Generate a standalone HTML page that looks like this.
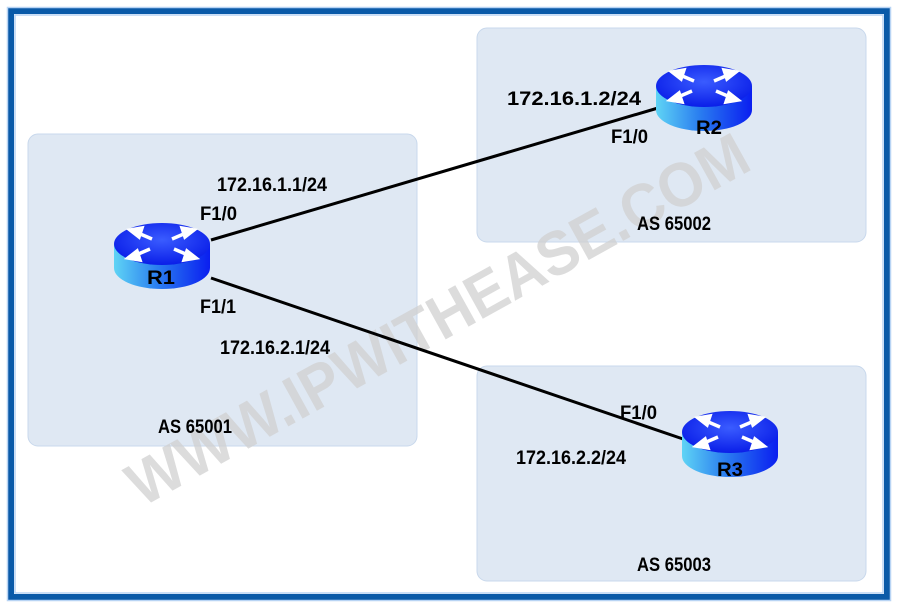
<!DOCTYPE html>
<html><head><meta charset="utf-8"><style>
html,body{margin:0;padding:0;background:#fff;}
svg{display:block;}
text{font-family:"Liberation Sans",sans-serif;font-weight:bold;}
</style></head><body>
<svg width="898" height="608" viewBox="0 0 898 608" xmlns="http://www.w3.org/2000/svg">
<defs>
<linearGradient id="body" x1="0" y1="0" x2="1" y2="0">
<stop offset="0" stop-color="#5fd4f5"/><stop offset="0.45" stop-color="#2a7ef0"/><stop offset="1" stop-color="#0a1ef0"/>
</linearGradient>
<radialGradient id="top" cx="0.5" cy="0.4" r="0.6">
<stop offset="0" stop-color="#3a5cff"/><stop offset="1" stop-color="#0a1ee8"/>
</radialGradient>
<g id="router">
<path d="M0,22 L0,46 A48,21 0 0 0 96,46 L96,22 Z" fill="url(#body)"/>
<ellipse cx="48" cy="22" rx="48" ry="21" fill="url(#top)"/>
<g stroke="#fff" stroke-width="3.5" fill="#fff">
<line x1="38" y1="17" x2="24" y2="11"/><polygon points="16,8 28,6 25,15"/>
<line x1="58" y1="17" x2="72" y2="11"/><polygon points="80,8 68,6 71,15"/>
<line x1="36" y1="27" x2="22" y2="33"/><polygon points="14,36 26,38 23,29"/>
<line x1="60" y1="27" x2="74" y2="33"/><polygon points="82,36 70,38 73,29"/>
</g>
</g>
</defs>
<rect x="0" y="0" width="898" height="608" fill="#fff"/>
<rect x="11" y="11" width="876" height="586" fill="none" stroke="#0a5aa8" stroke-width="6"/>
<rect x="7.5" y="7.5" width="883" height="593" fill="none" stroke="#b8d4f4" stroke-width="1.5"/>
<rect x="15" y="15" width="868" height="578" fill="none" stroke="#b8d4f4" stroke-width="1.5"/>
<rect x="28" y="134" width="389" height="312" rx="10" fill="#dfe8f3" stroke="#c8d8ec"/>
<rect x="477" y="28" width="389" height="214" rx="10" fill="#dfe8f3" stroke="#c8d8ec"/>
<rect x="477" y="366" width="389" height="215" rx="10" fill="#dfe8f3" stroke="#c8d8ec"/>
<text x="0" y="0" transform="translate(448,338) rotate(-29)" text-anchor="middle" font-size="62" fill="#d0d0d0" fill-opacity="0.75" textLength="700" lengthAdjust="spacingAndGlyphs">WWW.IPWITHEASE.COM</text>
<line x1="211" y1="240" x2="658" y2="108" stroke="#000" stroke-width="3"/>
<line x1="211" y1="278" x2="686" y2="440" stroke="#000" stroke-width="3"/>
<use href="#router" x="114" y="222"/>
<use href="#router" x="656" y="64"/>
<use href="#router" x="682" y="410"/>
<g font-size="19" fill="#000">
<text x="147" y="284" textLength="28" lengthAdjust="spacingAndGlyphs">R1</text>
<text x="696" y="134" textLength="26" lengthAdjust="spacingAndGlyphs">R2</text>
<text x="717" y="476" textLength="26" lengthAdjust="spacingAndGlyphs">R3</text>
<text x="217" y="191" textLength="110" lengthAdjust="spacingAndGlyphs">172.16.1.1/24</text>
<text x="200" y="220" textLength="37" lengthAdjust="spacingAndGlyphs">F1/0</text>
<text x="200" y="313" textLength="36" lengthAdjust="spacingAndGlyphs">F1/1</text>
<text x="220" y="354" textLength="110" lengthAdjust="spacingAndGlyphs">172.16.2.1/24</text>
<text x="158" y="433" textLength="74" lengthAdjust="spacingAndGlyphs">AS 65001</text>
<text x="507" y="105" textLength="134" lengthAdjust="spacingAndGlyphs">172.16.1.2/24</text>
<text x="611" y="143" textLength="37" lengthAdjust="spacingAndGlyphs">F1/0</text>
<text x="637" y="230" textLength="74" lengthAdjust="spacingAndGlyphs">AS 65002</text>
<text x="620" y="419" textLength="37" lengthAdjust="spacingAndGlyphs">F1/0</text>
<text x="516" y="464" textLength="110" lengthAdjust="spacingAndGlyphs">172.16.2.2/24</text>
<text x="637" y="571" textLength="74" lengthAdjust="spacingAndGlyphs">AS 65003</text>
</g>
</svg>
</body></html>
